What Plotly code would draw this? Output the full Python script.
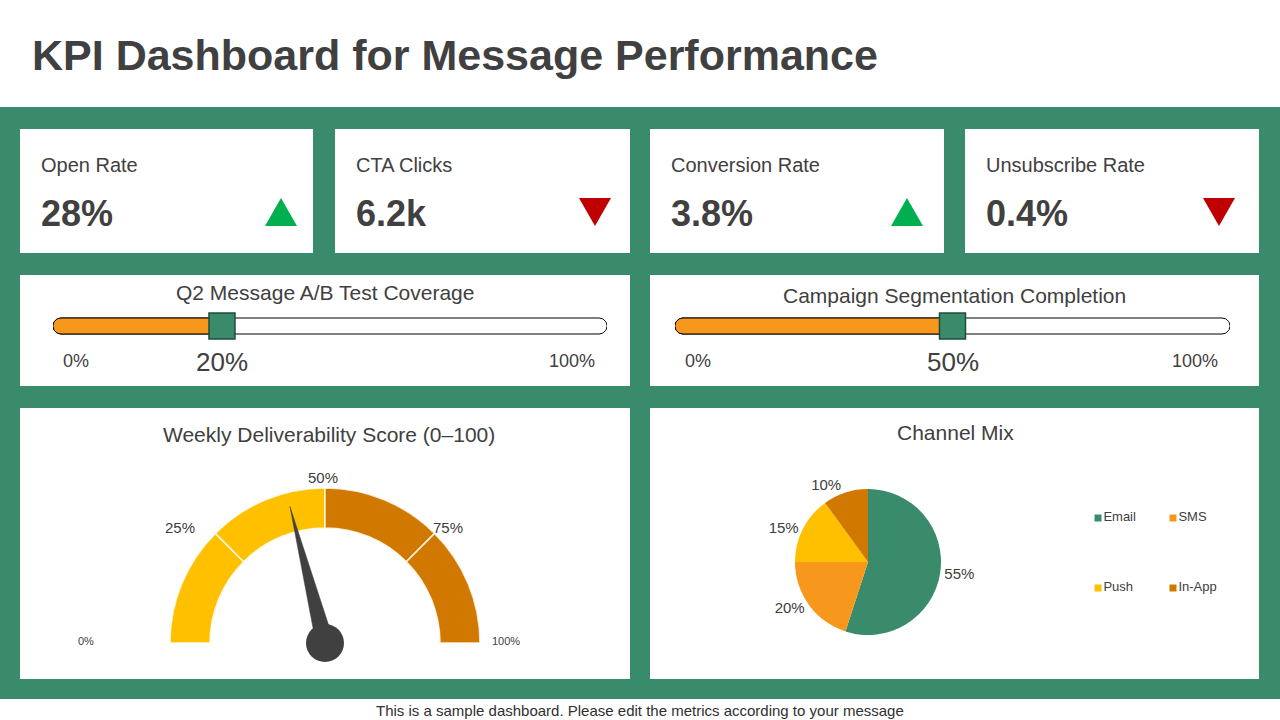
import numpy as np
import plotly.graph_objects as go

W, H = 1280, 720
GREEN = "#3A8A6C"
TEXT = "#404040"
ORANGE = "#F7981D"
YELLOW = "#FFC000"
DKORANGE = "#D07800"
UP_C = "#00B050"
DOWN_C = "#C00000"
FONT = "Liberation Sans, Arial, sans-serif"

# ---------------- data ----------------
title = "KPI Dashboard for Message Performance"
kpi_labels = ["Open Rate", "CTA Clicks", "Conversion Rate", "Unsubscribe Rate"]
kpi_values = ["28%", "6.2k", "3.8%", "0.4%"]
kpi_trends = ["up", "down", "up", "down"]

progress_titles = ["Q2 Message A/B Test Coverage", "Campaign Segmentation Completion"]
progress_labels = ["20%", "50%"]
progress_marker_pos = [30.5, 50.0]   # marker position on the 0-100 track as drawn
progress_min_label = "0%"
progress_max_label = "100%"

gauge_title = "Weekly Deliverability Score (0–100)"
gauge_bands = [0, 25, 50, 75, 100]
gauge_band_colors = [YELLOW, YELLOW, DKORANGE, DKORANGE]
gauge_tick_labels = ["0%", "25%", "50%", "75%", "100%"]
gauge_value = 42

pie_title = "Channel Mix"
channels = ["Email", "SMS", "Push", "In-App"]
channel_share = [55, 20, 15, 10]
channel_colors = [GREEN, ORANGE, YELLOW, DKORANGE]

footer = "This is a sample dashboard. Please edit the metrics according to your message"

# ---------------- layout helpers ----------------
def px(x):
    return x / W

def py(y):
    return 1 - y / H

row1_y = (129, 253)
row1_x = [(20, 313), (335, 630), (650, 944), (965, 1259)]
tri_offset = [32, 35, 37, 40]
row2_y = (275, 386)
row3_y = (408, 679)
half_x = [(20, 630), (650, 1259)]
bar_spans = [(53, 607), (675, 1230)]
bar_y = (306, 346)

shapes = []
annotations = []

def rect(x0, y0, x1, y1, color):
    shapes.append(dict(type="rect", xref="paper", yref="paper",
                       x0=px(x0), x1=px(x1), y0=py(y1), y1=py(y0),
                       fillcolor=color, line=dict(width=0), layer="below"))

def text(x, y, s, size, xanchor="center", color=TEXT, bold=False, xref="paper"):
    annotations.append(dict(x=x if xref != "paper" else px(x), y=py(y),
                            xref=xref, yref="paper",
                            text=f"<b>{s}</b>" if bold else s, showarrow=False,
                            xanchor=xanchor, yanchor="middle",
                            font=dict(family=FONT, size=size, color=color)))

# background band and cards
rect(0, 107, W, 699, GREEN)
for x0, x1 in row1_x:
    rect(x0, row1_y[0], x1, row1_y[1], "white")
for x0, x1 in half_x:
    rect(x0, row2_y[0], x1, row2_y[1], "white")
    rect(x0, row3_y[0], x1, row3_y[1], "white")

# title and footer
text(30, 55, title, 43, xanchor="left", bold=True)
text(640, 710, footer, 15, color="#303030")

# KPI cards
def tri_path(cx, cy, w, h, up):
    if up:
        pts = [(cx - w / 2, cy + h / 2), (cx + w / 2, cy + h / 2), (cx, cy - h / 2)]
    else:
        pts = [(cx - w / 2, cy - h / 2), (cx + w / 2, cy - h / 2), (cx, cy + h / 2)]
    return "M " + " L ".join(f"{px(a):.5f},{py(b):.5f}" for a, b in pts) + " Z"

for (x0, x1), off, lab, val, tr in zip(row1_x, tri_offset, kpi_labels, kpi_values, kpi_trends):
    text(x0 + 19, 165, lab, 20, xanchor="left")
    text(x0 + 19, 213, val, 36, xanchor="left", bold=True)
    up = tr == "up"
    shapes.append(dict(type="path", xref="paper", yref="paper",
                       path=tri_path(x1 - off, 212, 32, 28, up),
                       fillcolor=UP_C if up else DOWN_C, line=dict(width=0)))

fig = go.Figure()

# progress bars
def capsule(x0, x1, span_px, r_px=8, round_left=True, round_right=True, n=24):
    k = 100.0 / span_px
    rx = r_px * k
    xs, ys = [], []
    if round_right:
        t = np.linspace(-np.pi / 2, np.pi / 2, n)
        xs += list(x1 - rx + rx * np.cos(t)); ys += list(r_px * np.sin(t))
    else:
        xs += [x1, x1]; ys += [-r_px, r_px]
    if round_left:
        t = np.linspace(np.pi / 2, 3 * np.pi / 2, n)
        xs += list(x0 + rx + rx * np.cos(t)); ys += list(r_px * np.sin(t))
    else:
        xs += [x0, x0]; ys += [r_px, -r_px]
    xs.append(xs[0]); ys.append(ys[0])
    return xs, ys

axis_names = ["", "2"]
for i, ((bx0, bx1), (cx0, cx1)) in enumerate(zip(bar_spans, half_x)):
    ax = axis_names[i]
    span = bx1 - bx0
    xs, ys = capsule(0, 100, span)
    fig.add_trace(go.Scatter(x=xs, y=ys, xaxis="x" + ax, yaxis="y" + ax, mode="lines",
                             fill="toself", fillcolor="white",
                             line=dict(color="black", width=1), hoverinfo="skip",
                             showlegend=False))
    xs, ys = capsule(0, progress_marker_pos[i], span, round_right=False)
    fig.add_trace(go.Scatter(x=xs, y=ys, xaxis="x" + ax, yaxis="y" + ax, mode="lines",
                             fill="toself", fillcolor=ORANGE,
                             line=dict(color="black", width=1), hoverinfo="skip",
                             showlegend=False))
    fig.add_trace(go.Scatter(x=[progress_marker_pos[i]], y=[0], xaxis="x" + ax, yaxis="y" + ax,
                             mode="markers", cliponaxis=False,
                             marker=dict(symbol="square", size=26, color=GREEN,
                                         line=dict(color="#1E4D3B", width=1.5)),
                             hoverinfo="skip", showlegend=False))
    text((cx0 + cx1) / 2, 292 if i == 0 else 295, progress_titles[i], 21)
    text(bx0 + 23, 361, progress_min_label, 18)
    text(bx1 - 35, 361, progress_max_label, 18)
    annotations.append(dict(x=progress_marker_pos[i], y=py(362), xref="x" + ax, yref="paper",
                            text=progress_labels[i], showarrow=False,
                            xanchor="center", yanchor="middle",
                            font=dict(family=FONT, size=26, color=TEXT)))

# gauge
band_mid = [(a + b) / 2 * 1.8 for a, b in zip(gauge_bands[:-1], gauge_bands[1:])]
band_w = [(b - a) * 1.8 for a, b in zip(gauge_bands[:-1], gauge_bands[1:])]
fig.add_trace(go.Barpolar(r=[40] * len(band_mid), base=[115] * len(band_mid),
                          theta=band_mid, width=band_w, subplot="polar",
                          marker=dict(color=gauge_band_colors,
                                      line=dict(color="rgba(255,250,235,0.9)", width=1.5)),
                          hoverinfo="skip", showlegend=False))
ang = gauge_value * 1.8
fig.add_trace(go.Scatterpolar(r=[9, 141, 9, 9], theta=[ang - 90, ang, ang + 90, ang - 90],
                              mode="lines", fill="toself", fillcolor=TEXT,
                              line=dict(color=TEXT, width=0.5), subplot="polar",
                              hoverinfo="skip", showlegend=False))
fig.add_trace(go.Scatterpolar(r=[0], theta=[0], mode="markers", cliponaxis=False,
                              marker=dict(size=38, color=TEXT), subplot="polar",
                              hoverinfo="skip", showlegend=False))
text(329, 434, gauge_title, 21)
gauge_label_pos = [(86, 641, 11), (180, 527, 15), (323, 477, 15), (448, 527, 15), (506, 641, 11)]
for lab, (gx, gy, gs) in zip(gauge_tick_labels, gauge_label_pos):
    text(gx, gy, lab, gs)

# pie
fig.add_trace(go.Pie(labels=channels, values=channel_share, sort=False,
                     direction="clockwise", rotation=0,
                     marker=dict(colors=channel_colors, line=dict(width=0)),
                     textinfo="percent", textposition="outside",
                     outsidetextfont=dict(family=FONT, size=15, color=TEXT),
                     domain=dict(x=[px(795), px(941)], y=[py(635), py(489)]),
                     showlegend=False, hoverinfo="label+percent"))
text(955, 432, pie_title, 21)

# legend (2 x 2)
fig.add_trace(go.Scatter(x=[i % 2 for i in range(len(channels))],
                         y=[i // 2 for i in range(len(channels))],
                         xaxis="x3", yaxis="y3", mode="markers+text", cliponaxis=False,
                         text=channels, textposition="middle right",
                         textfont=dict(family=FONT, size=13, color=TEXT),
                         marker=dict(symbol="square", size=7, color=channel_colors),
                         hoverinfo="skip", showlegend=False))

hidden = dict(visible=False, showgrid=False, zeroline=False, fixedrange=True)
fig.update_layout(
    width=W, height=H, margin=dict(l=0, r=0, t=0, b=0),
    paper_bgcolor="white", plot_bgcolor="rgba(0,0,0,0)",
    showlegend=False,
    shapes=shapes, annotations=annotations,
    font=dict(family=FONT, color=TEXT),
    xaxis=dict(domain=[px(bar_spans[0][0]), px(bar_spans[0][1])], range=[0, 100], **hidden),
    yaxis=dict(domain=[py(bar_y[1]), py(bar_y[0])], range=[-20, 20], **hidden),
    xaxis2=dict(domain=[px(bar_spans[1][0]), px(bar_spans[1][1])], range=[0, 100], **hidden),
    yaxis2=dict(domain=[py(bar_y[1]), py(bar_y[0])], range=[-20, 20], **hidden),
    xaxis3=dict(domain=[px(1098), px(1173)], range=[0, 1], **hidden),
    yaxis3=dict(domain=[py(588), py(518)], range=[1, 0], **hidden),
    polar=dict(domain=dict(x=[px(170), px(480)], y=[py(643), py(488)]),
               sector=[0, 180], bgcolor="rgba(0,0,0,0)", hole=0,
               radialaxis=dict(visible=False, range=[0, 155]),
               angularaxis=dict(visible=False, direction="clockwise", rotation=180)),
)

fig.write_html("out.html", config={"displayModeBar": False})
